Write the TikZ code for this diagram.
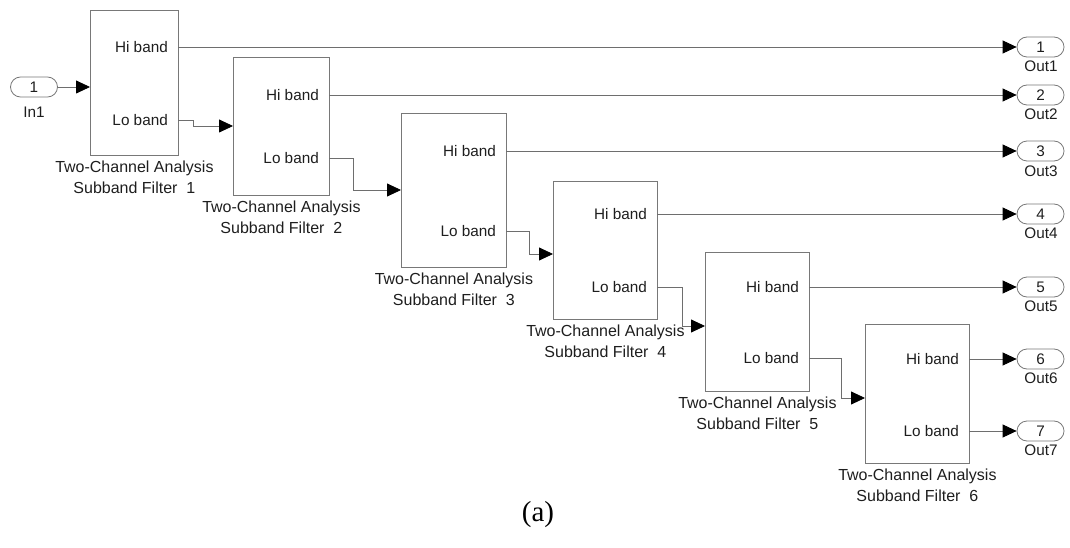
\documentclass[tikz,border=0pt]{standalone}
\usepackage{fontspec}
\setmainfont{Liberation Sans}
\newfontfamily\capfont{Liberation Serif}
\usetikzlibrary{arrows.meta}
\definecolor{bgray}{RGB}{120,120,120}
\definecolor{lgray}{RGB}{110,110,110}
\definecolor{tcol}{RGB}{30,30,30}
\begin{document}
\begin{tikzpicture}[x=1pt,y=-1pt,
  blk/.style={draw=bgray, line width=0.8pt, inner sep=0pt, anchor=north west},
  ptxt/.style={font=\fontsize{15.3}{18}\selectfont, text=tcol, inner sep=0pt},
  lbl/.style={font=\fontsize{16}{18}\selectfont, text=tcol, inner sep=0pt},
  port/.style={draw=bgray, line width=0.8pt, rounded corners=10pt, minimum width=47pt, minimum height=20pt, inner sep=0pt, font=\fontsize{15.3}{18}\selectfont, text=tcol},
  conn/.style={draw=lgray, line width=0.8pt, -{Triangle[length=14pt,width=13pt,black]}}
]
\useasboundingbox (0,0) rectangle (1070,548);

% input port
\node[port] (in1) at (34,87) {1};
\node[ptxt] (in1l) at (34,112) {In1};

% blocks
\node[blk, minimum width=88pt, minimum height=145pt] (b1) at (90,10) {};
\node[blk, minimum width=96pt, minimum height=138pt] (b2) at (233,57) {};
\node[blk, minimum width=105pt, minimum height=154pt] (b3) at (401,113) {};
\node[blk, minimum width=104pt, minimum height=138pt] (b4) at (553,181) {};
\node[blk, minimum width=104pt, minimum height=139pt] (b5) at (705,252) {};
\node[blk, minimum width=104pt, minimum height=139pt] (b6) at (865,324) {};

% port coordinates
\coordinate (b1in) at (90,87);  \coordinate (b1hi) at (178,47);  \coordinate (b1lo) at (178,120);
\coordinate (b2in) at (233,126); \coordinate (b2hi) at (329,95);  \coordinate (b2lo) at (329,158);
\coordinate (b3in) at (401,190); \coordinate (b3hi) at (506,151); \coordinate (b3lo) at (506,231);
\coordinate (b4in) at (553,254); \coordinate (b4hi) at (657,214); \coordinate (b4lo) at (657,287);
\coordinate (b5in) at (705,326); \coordinate (b5hi) at (809,287); \coordinate (b5lo) at (809,358);
\coordinate (b6in) at (865,398); \coordinate (b6hi) at (969,359); \coordinate (b6lo) at (969,431);

% port texts
\node[ptxt, anchor=east] (t1h) at ([xshift=-10pt]b1hi) {Hi band};
\node[ptxt, anchor=east] (t1l) at ([xshift=-10pt]b1lo) {Lo band};
\node[ptxt, anchor=east] (t2h) at ([xshift=-10pt]b2hi) {Hi band};
\node[ptxt, anchor=east] (t2l) at ([xshift=-10pt]b2lo) {Lo band};
\node[ptxt, anchor=east] (t3h) at ([xshift=-10pt]b3hi) {Hi band};
\node[ptxt, anchor=east] (t3l) at ([xshift=-10pt]b3lo) {Lo band};
\node[ptxt, anchor=east] (t4h) at ([xshift=-10pt]b4hi) {Hi band};
\node[ptxt, anchor=east] (t4l) at ([xshift=-10pt]b4lo) {Lo band};
\node[ptxt, anchor=east] (t5h) at ([xshift=-10pt]b5hi) {Hi band};
\node[ptxt, anchor=east] (t5l) at ([xshift=-10pt]b5lo) {Lo band};
\node[ptxt, anchor=east] (t6h) at ([xshift=-10pt]b6hi) {Hi band};
\node[ptxt, anchor=east] (t6l) at ([xshift=-10pt]b6lo) {Lo band};

% block labels
\foreach \b/\n in {b1/1,b2/2,b3/3,b4/4,b5/5,b6/6}{
  \node[lbl] (\b la) at ([yshift=-13pt]\b.south) {Two-Channel Analysis};
  \node[lbl] (\b lb) at ([yshift=-32pt]\b.south) {Subband Filter\ \ \n};
}

% output ports
\node[port] (o1) at (1040.5,47) {1};  \node[ptxt] (o1l) at (1041,66) {Out1};
\node[port] (o2) at (1040.5,95) {2};  \node[ptxt] (o2l) at (1041,114) {Out2};
\node[port] (o3) at (1040.5,151) {3}; \node[ptxt] (o3l) at (1041,171) {Out3};
\node[port] (o4) at (1040.5,214) {4}; \node[ptxt] (o4l) at (1041,233) {Out4};
\node[port] (o5) at (1040.5,287) {5}; \node[ptxt] (o5l) at (1041,306) {Out5};
\node[port] (o6) at (1040.5,359) {6}; \node[ptxt] (o6l) at (1041,378) {Out6};
\node[port] (o7) at (1040.5,431) {7}; \node[ptxt] (o7l) at (1041,450) {Out7};

% connectors
\draw[conn] (in1.east) -- (b1in);
\draw[conn] (b1hi) -- (o1.west);
\draw[conn] (b2hi) -- (o2.west);
\draw[conn] (b3hi) -- (o3.west);
\draw[conn] (b4hi) -- (o4.west);
\draw[conn] (b5hi) -- (o5.west);
\draw[conn] (b6hi) -- (o6.west);
\draw[conn] (b6lo) -- (o7.west);
\draw[conn] (b1lo) -- ++(15,0) |- (b2in);
\draw[conn] (b2lo) -- ++(24,0) |- (b3in);
\draw[conn] (b3lo) -- ++(23,0) |- (b4in);
\draw[conn] (b4lo) -- ++(25,0) |- (b5in);
\draw[conn] (b5lo) -- ++(32,0) |- (b6in);

% caption
\node[font=\capfont\fontsize{29}{32}\selectfont, inner sep=0pt] (cap) at (538,515) {(a)};
\end{tikzpicture}
\end{document}
